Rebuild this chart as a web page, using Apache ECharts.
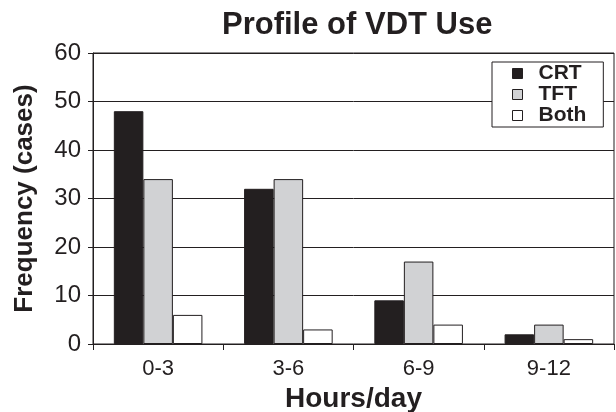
<!DOCTYPE html>
<html>
<head>
<meta charset="utf-8">
<script src="https://cdn.jsdelivr.net/npm/echarts@6/dist/echarts.min.js"></script>
<style>
  html, body { margin: 0; padding: 0; background: #fff; }
  #chart { width: 616px; height: 412px; }
</style>
</head>
<body>
<div id="chart"></div>
<script>
// 数据
var categories = ['0-3', '3-6', '6-9', '9-12'];
var crt = [48, 32, 9, 2];
var tft = [34, 34, 17, 4];
var both = [6, 3, 4, 1];
var yTicks = [0, 10, 20, 30, 40, 50, 60];

var ink = '#231f20';
var font = 'Liberation Sans, Arial, Helvetica, sans-serif';

var chart = echarts.init(document.getElementById('chart'));

function barSeries (name, data, color) {
  return {
    name: name,
    type: 'bar',
    data: data,
    barGap: '0%',
    barCategoryGap: '32%',
    itemStyle: {
      color: color,
      borderColor: ink,
      borderWidth: 1
    },
    emphasis: { disabled: true }
  };
}

var option = {
  backgroundColor: '#fff',
  animation: false,
  title: {
    text: 'Profile of VDT Use',
    left: 217,
    top: 5,
    textStyle: {
      color: ink,
      fontFamily: font,
      fontWeight: 'bold',
      fontSize: 31
    }
  },
  legend: {
    orient: 'vertical',
    left: 492,
    top: 62,
    padding: [1, 17, 1, 20],
    itemGap: 0,
    itemWidth: 10,
    itemHeight: 10,
    borderColor: ink,
    borderWidth: 1,
    backgroundColor: '#fff',
    textStyle: {
      color: ink,
      fontFamily: font,
      fontWeight: 'bold',
      fontSize: 21,
      lineHeight: 20,
      padding: [0, 0, 0, 11]
    },
    data: [
      { name: 'CRT', icon: 'rect', itemStyle: { color: ink, borderColor: ink, borderWidth: 1 } },
      { name: 'TFT', icon: 'rect', itemStyle: { color: '#d1d2d4', borderColor: ink, borderWidth: 1 } },
      { name: 'Both', icon: 'rect', itemStyle: { color: '#fff', borderColor: ink, borderWidth: 1 } }
    ]
  },
  grid: {
    left: 93,
    right: 2,
    top: 53,
    bottom: 68,
    outerBoundsMode: 'none',
    containLabel: false,
    show: true,
    borderColor: ink,
    borderWidth: 1
  },
  xAxis: {
    type: 'category',
    data: categories,
    name: 'Hours/day',
    nameLocation: 'middle',
    nameGap: 39,
    nameTextStyle: {
      color: ink,
      fontFamily: font,
      fontWeight: 'bold',
      fontSize: 28
    },
    axisLine: { lineStyle: { color: ink, width: 1 } },
    axisTick: { show: true, length: 6, lineStyle: { color: ink } },
    axisLabel: {
      color: ink,
      fontFamily: font,
      fontSize: 22,
      margin: 14
    }
  },
  yAxis: {
    type: 'value',
    min: yTicks[0],
    max: yTicks[yTicks.length - 1],
    interval: 10,
    name: 'Frequency (cases)',
    nameLocation: 'middle',
    nameGap: 55,
    nameTextStyle: {
      color: ink,
      fontFamily: font,
      fontWeight: 'bold',
      fontSize: 26
    },
    axisLine: { show: true, lineStyle: { color: ink, width: 1 } },
    axisTick: { show: true, length: 5, lineStyle: { color: ink } },
    axisLabel: {
      color: ink,
      fontFamily: font,
      fontSize: 24,
      margin: 12
    },
    splitLine: { show: true, lineStyle: { color: ink, width: 1 } }
  },
  tooltip: { show: false },
  series: [
    barSeries('CRT', crt, ink),
    barSeries('TFT', tft, '#d1d2d4'),
    barSeries('Both', both, '#ffffff')
  ]
};

chart.setOption(option);
</script>
</body>
</html>
